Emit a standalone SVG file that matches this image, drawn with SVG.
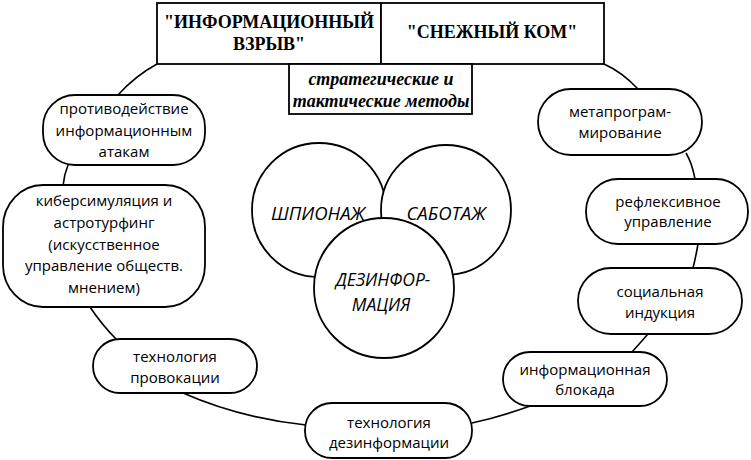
<svg xmlns="http://www.w3.org/2000/svg" width="751" height="460" viewBox="0 0 751 460">
<style>
.node{fill:#fff;stroke:#000;stroke-width:1.8}
.conn{fill:none;stroke:#000;stroke-width:1.6}
.t{font-family:"Open Sans","DejaVu Sans",sans-serif;font-size:15px;text-anchor:middle;fill:#000}
.h{font-family:"Liberation Serif",serif;font-size:18px;font-weight:bold;text-anchor:middle;fill:#000}
.s{font-family:"Liberation Serif",serif;font-size:18px;font-weight:bold;font-style:italic;text-anchor:middle;fill:#000}
.c{font-family:"Open Sans","DejaVu Sans",sans-serif;font-size:18.5px;font-style:italic;text-anchor:middle;fill:#000}
.c2{font-family:"Open Sans","DejaVu Sans",sans-serif;font-size:17.5px;font-style:italic;text-anchor:middle;fill:#000}
</style>
<rect width="751" height="460" fill="#fff"/>
<g id="connectors">
<path class="conn" d="M157,64 Q135,76 118,95"/>
<path class="conn" d="M68,165 Q64,175 63,186"/>
<path class="conn" d="M90,307 Q102,325 117,340"/>
<path class="conn" d="M183,393 Q240,418 306,425"/>
<path class="conn" d="M472,423 Q500,417 533,405"/>
<path class="conn" d="M632,352 Q641,342 648,334"/>
<path class="conn" d="M693,268 Q696,256 698,244"/>
<path class="conn" d="M695,179 Q692,163 686,153"/>
<path class="conn" d="M638,89 Q622,72 604,64"/>
</g>
<g id="header-left">
<rect class="node" x="157" y="3" width="224" height="61"/>
<text class="h" x="269" y="28">"ИНФОРМАЦИОННЫЙ</text>
<text class="h" x="269" y="50">ВЗРЫВ"</text>
</g>
<g id="header-right">
<rect class="node" x="381" y="3" width="223" height="61"/>
<text class="h" x="492" y="38">"СНЕЖНЫЙ КОМ"</text>
</g>
<g id="methods">
<rect class="node" x="289" y="64" width="183" height="50"/>
<text class="s" x="381" y="85">стратегические и</text>
<text class="s" x="381" y="107">тактические методы</text>
</g>
<g id="n-protivodeystvie">
<rect class="node" x="43" y="95" width="162" height="70" rx="32" ry="32"/>
<text class="t" x="124" y="114">противодействие</text>
<text class="t" x="124" y="136">информационным</text>
<text class="t" x="124" y="157">атакам</text>
</g>
<g id="n-kiber">
<rect class="node" x="3" y="185" width="202" height="122" rx="40" ry="42"/>
<text class="t" x="104" y="206">киберсимуляция и</text>
<text class="t" x="104" y="228">астротурфинг</text>
<text class="t" x="104" y="250">(искусственное</text>
<text class="t" x="104" y="271">управление обществ.</text>
<text class="t" x="104" y="293">мнением)</text>
</g>
<g id="n-provokacii">
<rect class="node" x="93" y="339" width="164" height="54" rx="27" ry="27"/>
<text class="t" x="175" y="362">технология</text>
<text class="t" x="175" y="383">провокации</text>
</g>
<g id="n-dezinformacii">
<rect class="node" x="305" y="403" width="167" height="55" rx="27" ry="27"/>
<text class="t" x="389" y="428">технология</text>
<text class="t" x="389" y="448">дезинформации</text>
</g>
<g id="n-blokada">
<rect class="node" x="503" y="352" width="164" height="54" rx="27" ry="27"/>
<text class="t" x="585" y="375">информационная</text>
<text class="t" x="585" y="395">блокада</text>
</g>
<g id="n-socialnaya">
<rect class="node" x="578" y="268" width="164" height="66" rx="33" ry="33"/>
<text class="t" x="660" y="297">социальная</text>
<text class="t" x="660" y="318">индукция</text>
</g>
<g id="n-refleksivnoe">
<rect class="node" x="586" y="179" width="162" height="65" rx="32" ry="32"/>
<text class="t" x="668" y="207">рефлексивное</text>
<text class="t" x="668" y="227">управление</text>
</g>
<g id="n-meta">
<rect class="node" x="538" y="89" width="164" height="66" rx="33" ry="33"/>
<text class="t" x="620" y="117">метапрограм-</text>
<text class="t" x="620" y="138">мирование</text>
</g>
<g id="c-shpionazh">
<circle class="node" cx="319" cy="210" r="67"/>
<text class="c" x="318" y="220">ШПИОНАЖ</text>
</g>
<g id="c-sabotazh">
<circle class="node" cx="446" cy="210" r="65"/>
<text class="c" x="446" y="220">САБОТАЖ</text>
</g>
<g id="c-dezinformaciya">
<circle class="node" cx="384" cy="288" r="70"/>
<text class="c2" x="383" y="286">ДЕЗИНФОР-</text>
<text class="c2" x="381" y="311">МАЦИЯ</text>
</g>
</svg>
